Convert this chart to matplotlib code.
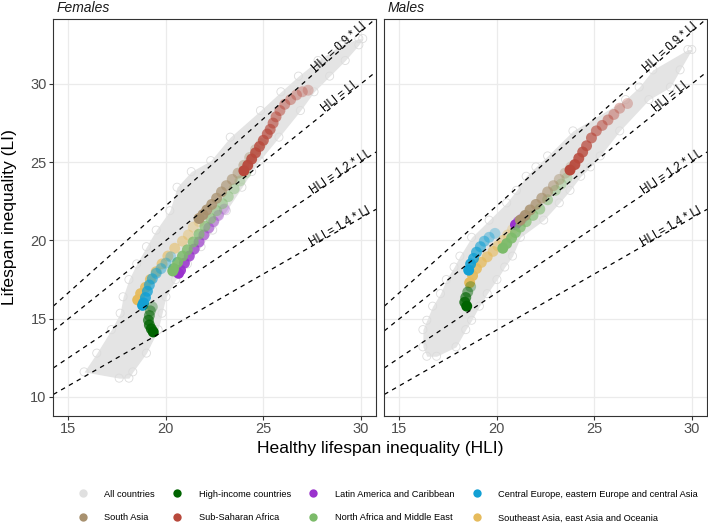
import matplotlib
matplotlib.use("Agg")
import matplotlib.pyplot as plt
import numpy as np
from matplotlib.lines import Line2D

plt.rcParams['font.family'] = ['Liberation Sans', 'DejaVu Sans']

# ---------------- data ----------------
categories = ['All countries', 'High-income countries', 'Latin America and Caribbean',
              'Central Europe, eastern Europe and central Asia', 'South Asia',
              'Sub-Saharan Africa', 'North Africa and Middle East',
              'Southeast Asia, east Asia and Oceania']
colors = ['#e0e0e0', '#006400', '#9a32cd', '#12a0d4', '#a8916f', '#b8493c', '#7cbb6a', '#e6bb5c']
panels = ['Females', 'Males']
ratios = [0.9, 1.0, 1.2, 1.4]
ratio_labels = ['HLI = 0.9 * LI', 'HLI = LI', 'HLI = 1.2 * LI', 'HLI = 1.4 * LI']

# grey cloud envelope ("All countries"): LI level, left HLI, right HLI
F_cloud_li    = [11.2, 11.6, 12.8, 14.3, 15.35, 16.4, 17.5, 18.5, 19.6, 20.66, 21.9, 23.4, 24.4, 25.1, 26.6, 28.3, 29.5, 30.5, 31.5, 32.5, 32.9]
F_cloud_left  = [17.6, 15.8, 16.45, 17.2, 17.65, 17.8, 18.1, 18.5, 19.0, 19.5, 20.2, 20.57, 21.3, 22.3, 23.3, 24.85, 25.9, 26.8, 27.8, 29.0, 29.9]
F_cloud_right = [18.1, 18.3, 19.0, 19.6, 19.8, 20.0, 20.5, 21.1, 21.8, 22.4, 23.1, 23.9, 24.4, 24.8, 25.8, 26.9, 27.6, 28.4, 29.2, 29.9, 30.1]

M_cloud_li    = [12.6, 13.2, 14.3, 14.9, 15.8, 16.6, 17.5, 18.3, 19.0, 20.2, 21.3, 22.4, 23.2, 24.1, 24.7, 25.4, 27.0, 29.0, 29.8, 30.9, 32.2]
M_cloud_left  = [16.4, 16.2, 16.2, 16.4, 16.7, 17.1, 17.4, 17.8, 18.1, 18.7, 19.6, 20.5, 21.0, 21.5, 22.0, 22.6, 23.9, 26.6, 27.3, 28.0, 29.8]
M_cloud_right = [16.9, 17.9, 18.4, 18.7, 19.1, 19.5, 20.0, 20.4, 20.8, 21.2, 22.4, 23.2, 23.75, 24.3, 24.8, 25.3, 26.3, 27.8, 28.9, 29.4, 30.0]

# regional trajectories (earliest first), females
F_hi_hli   = [19.3, 19.2, 19.15, 19.1, 19.15, 19.25, 19.35]
F_hi_li    = [15.75, 15.5, 15.2, 14.9, 14.6, 14.35, 14.15]
F_lac_hli  = [23.0, 22.7, 22.45, 22.2, 21.95, 21.7, 21.45, 21.2, 20.95, 20.75, 20.65]
F_lac_li   = [22.0, 21.6, 21.2, 20.8, 20.35, 19.9, 19.45, 19.0, 18.55, 18.1, 17.9]
F_ce_hli   = [20.25, 20.0, 19.75, 19.5, 19.3, 19.15, 19.05, 18.95, 18.85, 18.8]
F_ce_li    = [18.95, 18.55, 18.2, 17.9, 17.55, 17.15, 16.75, 16.35, 16.0, 15.85]
F_sa_hli   = [24.9, 24.6, 24.3, 24.0, 23.7, 23.4, 23.1, 22.85, 22.6, 22.35, 22.1, 21.9, 21.7]
F_sa_li    = [26.2, 25.8, 25.3, 24.8, 24.3, 23.9, 23.5, 23.1, 22.7, 22.3, 21.95, 21.65, 21.4]
F_ssa_hli  = [27.3, 27.0, 26.7, 26.4, 26.1, 25.85, 25.65, 25.5, 25.35, 25.2, 25.0, 24.8, 24.6, 24.4, 24.2, 24.0]
F_ssa_li   = [29.6, 29.5, 29.3, 29.0, 28.7, 28.3, 27.9, 27.5, 27.1, 26.8, 26.4, 26.0, 25.6, 25.2, 24.8, 24.45]
F_name_hli = [24.1, 23.8, 23.5, 23.2, 22.9, 22.6, 22.3, 22.0, 21.7, 21.4, 21.1, 20.85, 20.6, 20.4, 20.35]
F_name_li  = [24.3, 23.8, 23.3, 22.8, 22.35, 21.9, 21.4, 20.9, 20.4, 19.9, 19.4, 19.0, 18.6, 18.2, 18.05]
F_sea_hli  = [21.7, 21.4, 21.15, 20.85, 20.45, 20.1, 19.8, 19.5, 19.2, 18.95, 18.7, 18.55]
F_sea_li   = [21.2, 20.85, 20.35, 19.95, 19.5, 19.0, 18.5, 18.0, 17.5, 17.0, 16.6, 16.2]

# regional trajectories (earliest first), males
M_hi_hli   = [18.65, 18.5, 18.4, 18.35, 18.45]
M_hi_li    = [17.05, 16.7, 16.35, 16.05, 15.8]
M_lac_hli  = [21.3, 21.1, 20.95]
M_lac_li   = [21.4, 21.2, 21.0]
M_ce_hli   = [19.9, 19.6, 19.35, 19.15, 18.95, 18.8, 18.65, 18.55]
M_ce_li    = [20.45, 20.2, 19.95, 19.6, 19.25, 18.85, 18.5, 18.1]
M_sa_hli   = [23.8, 23.5, 23.2, 22.9, 22.6, 22.3, 22.0, 21.7, 21.45, 21.2]
M_sa_li    = [24.7, 24.3, 23.9, 23.5, 23.1, 22.7, 22.3, 21.95, 21.6, 21.3]
M_ssa_hli  = [26.7, 26.3, 26.0, 25.7, 25.4, 25.1, 24.85, 24.6, 24.4, 24.2, 24.0, 23.75]
M_ssa_li   = [28.75, 28.45, 28.05, 27.7, 27.35, 27.0, 26.55, 26.05, 25.65, 25.25, 24.85, 24.5]
M_name_hli = [23.6, 23.3, 23.0, 22.6, 22.2, 21.85, 21.5, 21.2, 20.95, 20.75, 20.5, 20.3]
M_name_li  = [24.0, 23.6, 23.2, 22.6, 22.0, 21.6, 21.2, 20.85, 20.5, 20.15, 19.8, 19.5]
M_sea_hli  = [20.8, 20.55, 20.3, 20.05, 19.8, 19.5, 19.2, 18.95, 18.75, 18.6]
M_sea_li   = [20.7, 20.35, 20.0, 19.65, 19.3, 18.95, 18.6, 18.2, 17.75, 17.3]

F_regions = {1: (F_hi_hli, F_hi_li), 2: (F_lac_hli, F_lac_li), 3: (F_ce_hli, F_ce_li),
             4: (F_sa_hli, F_sa_li), 5: (F_ssa_hli, F_ssa_li), 6: (F_name_hli, F_name_li),
             7: (F_sea_hli, F_sea_li)}
M_regions = {1: (M_hi_hli, M_hi_li), 2: (M_lac_hli, M_lac_li), 3: (M_ce_hli, M_ce_li),
             4: (M_sa_hli, M_sa_li), 5: (M_ssa_hli, M_ssa_li), 6: (M_name_hli, M_name_li),
             7: (M_sea_hli, M_sea_li)}
draw_order = [7, 2, 6, 4, 3, 1, 5]

# ---------------- figure ----------------
W, H = 708, 525
fig = plt.figure(figsize=(W / 100, H / 100), dpi=100)
axF = fig.add_axes([53.3 / W, 1 - 415.7 / H, 322.7 / W, 396.7 / H])
axM = fig.add_axes([384.3 / W, 1 - 415.7 / H, 322.7 / W, 396.7 / H])

def style(ax, show_y):
    ax.set_xlim(14.22, 30.78)
    ax.set_ylim(8.8, 34.15)
    ax.set_xticks([15, 20, 25, 30])
    ax.set_yticks([10, 15, 20, 25, 30])
    ax.grid(True, color='#ebebeb', lw=0.9, zorder=0)
    ax.set_axisbelow(True)
    for s in ax.spines.values():
        s.set_color('#333333')
        s.set_linewidth(0.8)
        s.set_zorder(10)
    ax.tick_params(axis='both', colors='#333333', labelcolor='#4d4d4d',
                   labelsize=10.5, length=2.8, width=0.8, pad=2)
    if not show_y:
        ax.tick_params(axis='y', left=False, labelleft=False)

def draw_panel(ax, cloud_li, cloud_l, cloud_r, regions, title):
    ax.fill_betweenx(cloud_li, cloud_l, cloud_r, color='#e4e4e4', lw=0, zorder=1)
    ax.scatter(cloud_l, cloud_li, s=34, facecolors='none', edgecolors='#dcdcdc', lw=0.6, zorder=1.5)
    ax.scatter(cloud_r, cloud_li, s=34, facecolors='none', edgecolors='#dcdcdc', lw=0.6, zorder=1.5)
    for i in draw_order:
        hx, ly = regions[i]
        n = len(hx)
        alphas = np.linspace(0.3, 1.0, n)
        rgba = [matplotlib.colors.to_rgba(colors[i], a) for a in alphas]
        ax.scatter(hx, ly, s=62, c=rgba, lw=0, zorder=3)
    for k, lab in zip(ratios, ratio_labels):
        ax.axline((0, 0), slope=1 / k, color='black', lw=0.9, ls=(0, (3.6, 3.6)), zorder=5)
        x0 = 29.0
        ax.text(x0, x0 / k, lab, rotation=np.degrees(np.arctan(1 / k)),
                transform_rotates_text=True, rotation_mode='anchor',
                ha='center', va='baseline', fontsize=8.3, color='black', zorder=6)

style(axF, True)
style(axM, False)
draw_panel(axF, F_cloud_li, F_cloud_left, F_cloud_right, F_regions, panels[0])
draw_panel(axM, M_cloud_li, M_cloud_left, M_cloud_right, M_regions, panels[1])

fig.text(57 / W, 1 - 12 / H, panels[0], style='italic', fontsize=10, color='#1a1a1a', va='baseline')
fig.text(388 / W, 1 - 12 / H, panels[1], style='italic', fontsize=10, color='#1a1a1a', va='baseline')

fig.text(380 / W, 1 - 449 / H, 'Healthy lifespan inequality (HLI)', ha='center', va='center',
         fontsize=12.6, color='black')
fig.text(10 / W, 1 - 217.4 / H, 'Lifespan inequality (LI)', ha='center', va='center',
         rotation=90, fontsize=12.6, color='black')

handles = [Line2D([], [], ls='none', marker='o', markersize=6, markerfacecolor=c,
                  markeredgecolor='none') for c in colors]
order = [0, 4, 1, 5, 2, 6, 3, 7]
fig.legend([handles[i] for i in order], [categories[i] for i in order], ncol=4,
           loc='center', bbox_to_anchor=(388 / W, 1 - 506 / H), frameon=False,
           fontsize=6.7, handlelength=1.0, handletextpad=1.8, columnspacing=1.9,
           labelspacing=1.6, borderpad=0)

fig.savefig('out.png', dpi=100)
